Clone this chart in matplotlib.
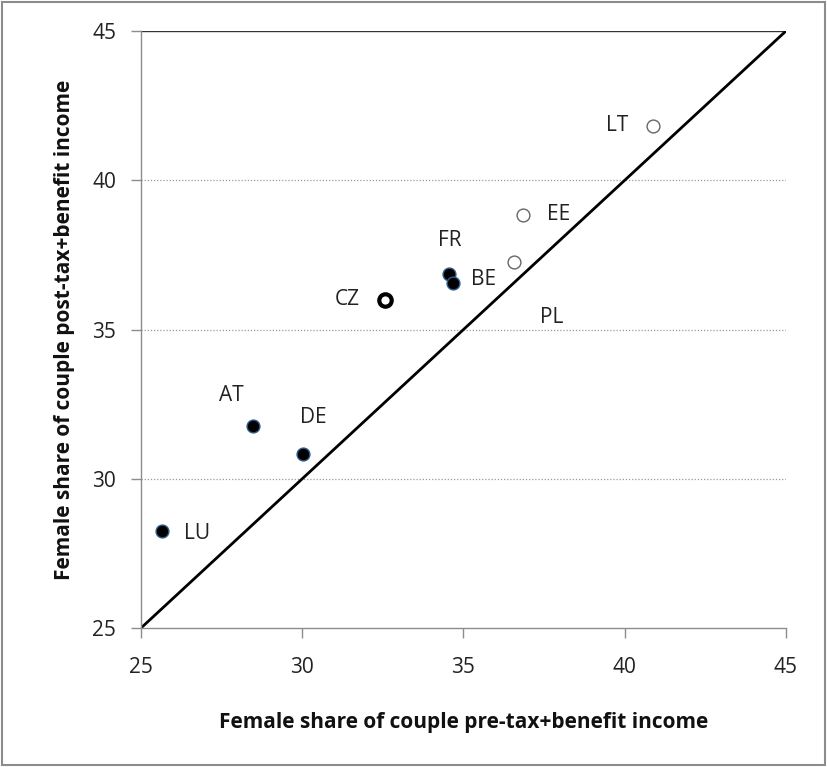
import matplotlib
matplotlib.use("Agg")
import matplotlib.pyplot as plt
from matplotlib.patches import Rectangle

plt.rcParams['font.family'] = ['Open Sans', 'DejaVu Sans']

# Data
filled_countries = ["LU", "AT", "DE", "FR", "BE"]
filled_pre = [25.65, 28.48, 30.01, 34.56, 34.69]
filled_post = [28.26, 31.77, 30.83, 36.86, 36.55]

open_countries = ["LT", "EE", "PL"]
open_pre = [40.89, 36.86, 36.57]
open_post = [41.82, 38.84, 37.26]

bold_countries = ["CZ"]
bold_pre = [32.57]
bold_post = [35.99]

# label offsets in points (dx, dy)
label_offsets = {
    "LU": (25, -2), "AT": (-16, 22), "DE": (8, 26), "FR": (0, 24), "BE": (22, 3),
    "LT": (-26, 0), "EE": (25, 0), "PL": (27, -40), "CZ": (-27, 0),
}

ticks = [25, 30, 35, 40, 45]
FS = 15

fig = plt.figure(figsize=(8.27, 7.67), dpi=100)
fig.patches.append(Rectangle((0.002, 0.002), 0.996, 0.996, transform=fig.transFigure,
                             fill=False, edgecolor="#8c8c8c", linewidth=1.5))
ax = fig.add_axes([0.1705, 0.1812, 0.7799, 0.7784])
ax.set_xlim(25, 45)
ax.set_ylim(25, 45)

for t in ticks[1:-1]:
    ax.axhline(t, color="#9a9a9a", linewidth=0.9, linestyle=(0, (1, 1.5)), zorder=0)
ax.axhline(45, color="#333333", linewidth=1.0, zorder=0)

ax.plot([25, 45], [25, 45], color="black", linewidth=2.0, zorder=1)

ax.scatter(filled_pre, filled_post, s=85, color="black", edgecolors="#2f5b8c",
           linewidths=1.0, zorder=3)
ax.scatter(open_pre, open_post, s=85, color="white", edgecolors="#666666",
           linewidths=1.0, zorder=3)
ax.scatter(bold_pre, bold_post, s=80, color="white", edgecolors="black",
           linewidths=3.0, zorder=3)

for names, xs, ys in [(filled_countries, filled_pre, filled_post),
                      (open_countries, open_pre, open_post),
                      (bold_countries, bold_pre, bold_post)]:
    for n, x, y in zip(names, xs, ys):
        dx, dy = label_offsets[n]
        ax.annotate(n, (x, y), xytext=(dx, dy), textcoords="offset points",
                    ha="center", va="center", fontsize=FS, color="#222222")

ax.set_xticks(ticks)
ax.set_yticks(ticks)
ax.set_xticklabels([str(t) for t in ticks], fontsize=FS)
ax.set_yticklabels([str(t) for t in ticks], fontsize=FS)
ax.tick_params(direction="out", length=7, width=1, color="#8c8c8c", labelcolor="#222222")
ax.tick_params(axis="x", pad=14)
ax.tick_params(axis="y", pad=11)

for side in ["top", "right"]:
    ax.spines[side].set_visible(False)
for side in ["left", "bottom"]:
    ax.spines[side].set_color("#8c8c8c")
    ax.spines[side].set_linewidth(1.0)

ax.set_xlabel("Female share of couple pre-tax+benefit income", fontsize=FS,
              fontweight="bold", labelpad=24, color="#111111")
ax.set_ylabel("Female share of couple post-tax+benefit income", fontsize=FS,
              fontweight="bold", labelpad=12, color="#111111")

fig.savefig("out.png", dpi=100)
